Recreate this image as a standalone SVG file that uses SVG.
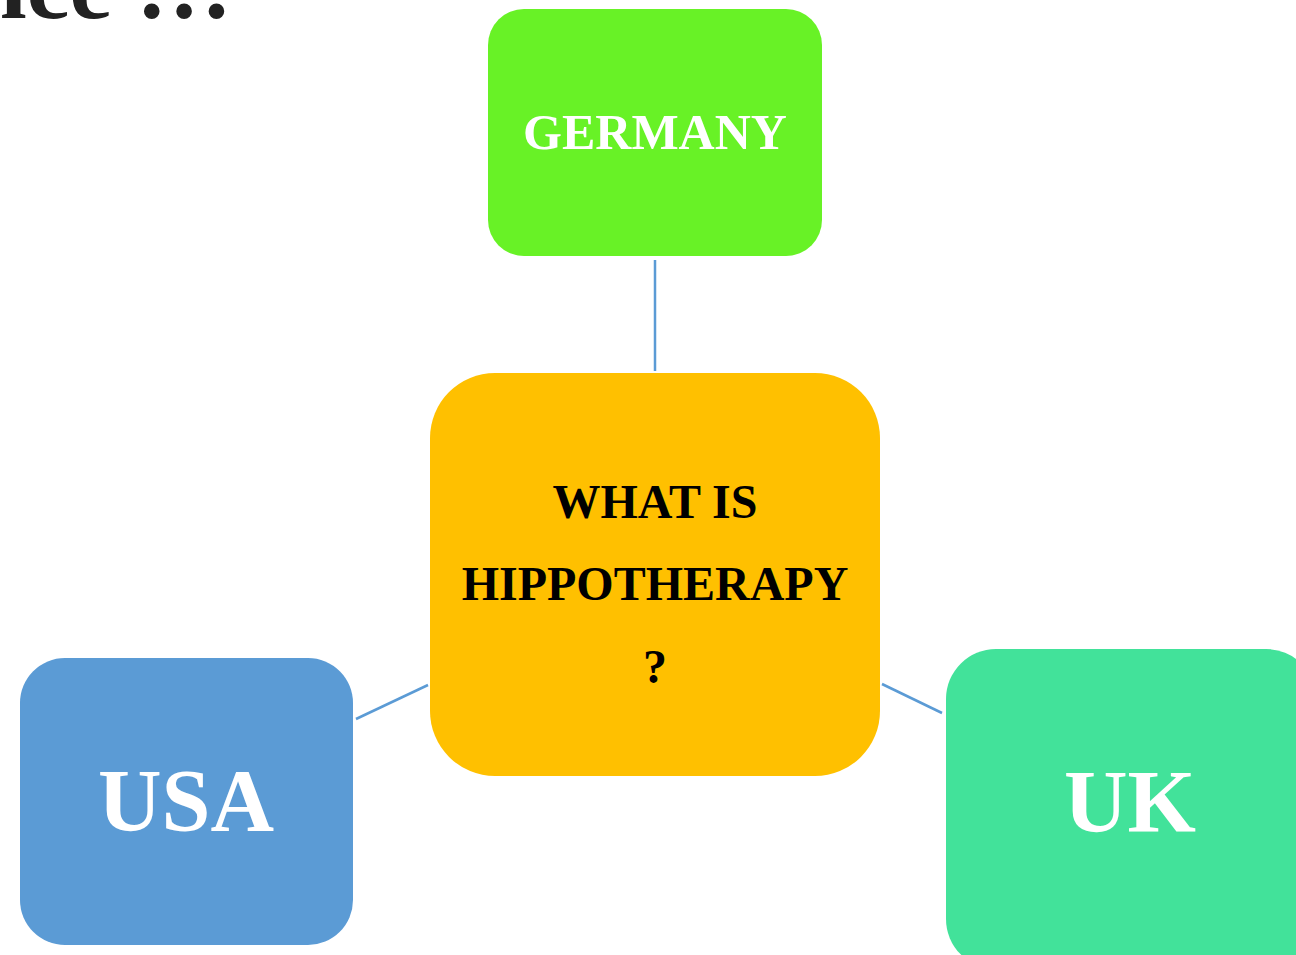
<svg xmlns="http://www.w3.org/2000/svg" width="1296" height="955" viewBox="0 0 1296 955">
<style>
.t{font-family:"Liberation Serif","Times New Roman",serif;font-weight:bold;text-anchor:middle}
.w{fill:#ffffff}
.k{fill:#000000}
.c{stroke:#5B9BD5;stroke-width:2.5;fill:none}
</style>
<rect width="1296" height="955" fill="#ffffff"/>
<text x="232" y="18" font-family="Liberation Serif, serif" font-weight="bold" font-size="96" fill="#222222" text-anchor="end">ice …</text>
<g id="connectors">
<line class="c" x1="655" y1="260" x2="655" y2="371"/>
<line class="c" x1="356" y1="719" x2="428" y2="685"/>
<line class="c" x1="882" y1="684" x2="942" y2="713"/>
</g>
<g id="germany">
<rect x="488" y="9" width="334" height="247" rx="36" fill="#68F226"/>
<text class="t w" x="655" y="149" font-size="50">GERMANY</text>
</g>
<g id="center">
<rect x="430" y="373" width="450" height="403" rx="65" fill="#FFC000"/>
<text class="t k" x="655" y="518" font-size="48">WHAT IS</text>
<text class="t k" x="655" y="600" font-size="48">HIPPOTHERAPY</text>
<text class="t k" x="655" y="683" font-size="48">?</text>
</g>
<g id="usa">
<rect x="20" y="658" width="333" height="287" rx="45" fill="#5B9BD5"/>
<text class="t w" x="186" y="830" font-size="88">USA</text>
</g>
<g id="uk">
<rect x="946" y="649" width="370" height="320" rx="50" fill="#42E29A"/>
<text class="t w" x="1130" y="831" font-size="88">UK</text>
</g>
</svg>
